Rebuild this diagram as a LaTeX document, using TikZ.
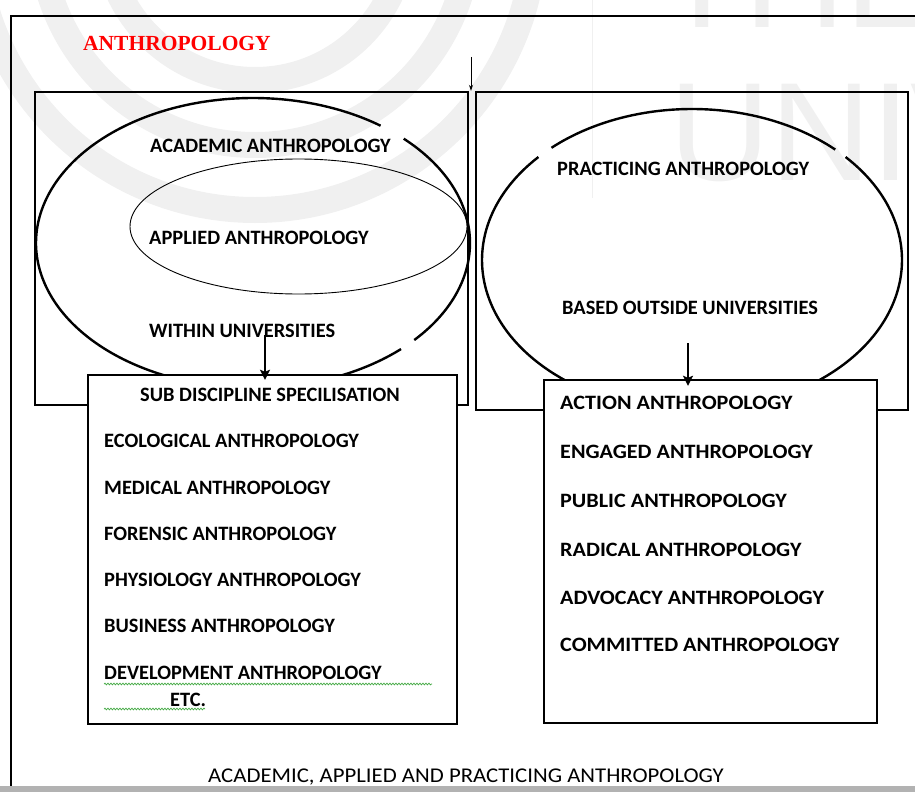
\documentclass[tikz,border=0pt]{standalone}
\usepackage{fontspec}
\setmainfont{Carlito}
\newfontfamily\titlefont{Liberation Serif}
\newfontfamily\wmfont{Liberation Sans}
\usetikzlibrary{arrows.meta,decorations.pathmorphing}
\definecolor{wm}{gray}{0.94}
\definecolor{squig}{RGB}{70,170,70}
\newcommand{\widetxt}[1]{\scalebox{1.085}[1]{#1}}
\begin{document}
\begin{tikzpicture}[x=1pt,y=-1pt,
  box/.style={draw,line width=2.4pt,fill=white,inner sep=0pt,rectangle},
  lbl/.style={anchor=base west,inner sep=0pt,font=\fontsize{20.4}{23}\selectfont\bfseries},
  bigell/.style={line width=2.4pt},
  arr/.style={line width=2pt,-{Stealth[length=10pt,width=10pt,inset=2pt]}},
  wmtext/.style={anchor=base west,inner sep=0pt,text=wm,font=\wmfont\fontsize{140}{140}\selectfont},
  squiggle/.style={squig,line width=0.7pt,decorate,decoration={snake,amplitude=0.9pt,segment length=3pt}}
]
\useasboundingbox (0,0) rectangle (915,792);
% watermark
\begin{scope}
\clip (0,0) rectangle (915,785);
\foreach \r in {150,215,280} \draw[wm,line width=26pt] (255,-70) circle[radius=\r];
\node[wmtext] (wmu) at (669,180) {UNIV};
\node[wmtext] (wmt) at (659,28) {THE};
\draw[wm,line width=1pt] (592,0) -- (592,198);
\end{scope}
% frame
\draw[line width=2.4pt] (11,786) -- (11,16) -- (915,16);
\fill[gray!60] (0,786) rectangle (915,792);
% title
\node[anchor=base west,inner sep=0pt,text=red,font=\titlefont\bfseries\fontsize{21.5}{24}\selectfont] (title) at (83,51) {ANTHROPOLOGY};
% upper boxes
\node[box,fill=none,minimum width=433pt,minimum height=313pt] (leftbox) at (251.5,248.5) {};
\node[box,fill=none,minimum width=432pt,minimum height=318pt] (rightbox) at (692,251) {};
% left ellipse with gaps
\draw[bigell] plot[smooth,domain=-46:42,samples=60] ({253+217*cos(\x)},{243+145*sin(\x)});
\draw[bigell] plot[smooth,domain=47:306,samples=160] ({253+217*cos(\x)},{243+145*sin(\x)});
\draw[line width=0.9pt] (298.5,226.5) ellipse [x radius=168.5, y radius=67.5];
% right ellipse with gaps
\draw[bigell] plot[smooth,domain=-132:-47,samples=60] ({692+210*cos(\x)},{260+151*sin(\x)});
\draw[bigell] plot[smooth,domain=-43:223,samples=160] ({692+210*cos(\x)},{260+151*sin(\x)});
% labels in ellipses
\node[lbl] (acad) at (150,152.5) {ACADEMIC ANTHROPOLOGY};
\node[lbl] (appl) at (149,244.5) {APPLIED ANTHROPOLOGY};
\node[lbl] (within) at (149,337.5) {WITHIN UNIVERSITIES};
\node[lbl] (prac) at (557,175.5) {PRACTICING ANTHROPOLOGY};
\node[lbl] (based) at (562,314.5) {BASED OUTSIDE UNIVERSITIES};
% lower boxes
\node[box,minimum width=369pt,minimum height=349pt] (subbox) at (272.5,549.5) {};
\node[box,minimum width=333pt,minimum height=343pt] (actbox) at (710.5,551.5) {};
% arrows
\coordinate (a0) at (471,57);
\draw[line width=0.8pt,-{Stealth[length=6pt,width=4pt]}] (a0) -- (a0 |- leftbox.north);
\coordinate (a1) at (265,335);
\draw[arr] (a1) -- ([yshift=-6pt]a1 |- subbox.north);
\coordinate (a2) at (688,343);
\draw[arr] (a2) -- ([yshift=-7pt]a2 |- actbox.north);
% sub discipline list
\node[lbl] (sub) at (140,401.5) {SUB DISCIPLINE SPECILISATION};
\node[lbl] (l1) at (104,447.5) {ECOLOGICAL ANTHROPOLOGY};
\node[lbl] (l2) at (104,494.5) {MEDICAL ANTHROPOLOGY};
\node[lbl] (l3) at (104,540.5) {FORENSIC ANTHROPOLOGY};
\node[lbl] (l4) at (104,586.5) {PHYSIOLOGY ANTHROPOLOGY};
\node[lbl] (l5) at (104,632.5) {BUSINESS ANTHROPOLOGY};
\node[lbl] (l6) at (104,679.5) {DEVELOPMENT ANTHROPOLOGY};
\node[lbl] (l7) at (170,706.5) {ETC.};
\draw[squiggle] (104,684) -- (432,684);
\draw[squiggle] (104,709) -- (205,709);
% practicing list
\node[lbl] (r1) at (560,409.5) {\widetxt{ACTION ANTHROPOLOGY}};
\node[lbl] (r2) at (560,458.5) {\widetxt{ENGAGED ANTHROPOLOGY}};
\node[lbl] (r3) at (560,507.5) {\widetxt{PUBLIC ANTHROPOLOGY}};
\node[lbl] (r4) at (560,556.5) {\widetxt{RADICAL ANTHROPOLOGY}};
\node[lbl] (r5) at (560,604.5) {\widetxt{ADVOCACY ANTHROPOLOGY}};
\node[lbl] (r6) at (560,651.5) {\widetxt{COMMITTED ANTHROPOLOGY}};
% caption
\node[anchor=base west,inner sep=0pt,font=\fontsize{21}{24}\selectfont] (cap) at (208,782) {\scalebox{1.084}[1]{ACADEMIC, APPLIED AND PRACTICING ANTHROPOLOGY}};
\end{tikzpicture}
\end{document}
